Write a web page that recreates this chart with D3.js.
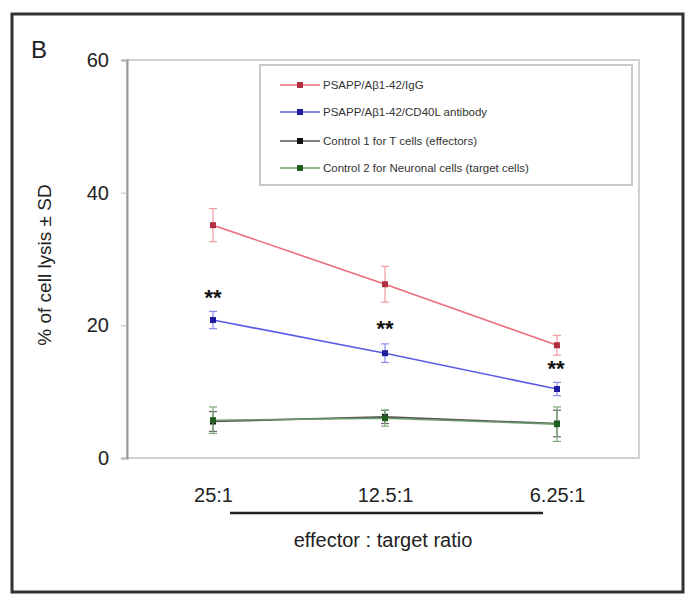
<!DOCTYPE html>
<html><head><meta charset="utf-8">
<script src="https://cdn.jsdelivr.net/npm/d3@7"></script>
<style>body{margin:0;background:#fff;}svg{display:block;font-family:"Liberation Sans",Arial,sans-serif;}</style>
</head><body>
<svg id="c" width="693" height="600"></svg>
<script>
const categories = ["25:1", "12.5:1", "6.25:1"];
const seriesNames = ["PSAPP/Aβ1-42/IgG", "PSAPP/Aβ1-42/CD40L antibody", "Control 1 for T cells (effectors)", "Control 2 for Neuronal cells (target cells)"];
const redValues = [35.1, 26.2, 17.0];
const redSD = [2.5, 2.7, 1.5];
const blueValues = [20.8, 15.8, 10.4];
const blueSD = [1.3, 1.4, 1.0];
const blackValues = [5.5, 6.2, 5.2];
const blackSD = [1.5, 1.0, 2.0];
const greenValues = [5.7, 6.0, 5.1];
const greenSD = [2.0, 1.2, 2.6];
const yTicks = [0, 20, 40, 60];
const starLabels = ["**", "**", "**"];

const series = [
  {name: seriesNames[0], values: redValues, sd: redSD, line: "#ec6f7c", mark: "#b0303f", err: "#f09aa3"},
  {name: seriesNames[1], values: blueValues, sd: blueSD, line: "#5a5ae6", mark: "#1c1c9c", err: "#8a8af0"},
  {name: seriesNames[2], values: blackValues, sd: blackSD, line: "#555", mark: "#111", err: "#666"},
  {name: seriesNames[3], values: greenValues, sd: greenSD, line: "#6a9a6a", mark: "#1f5e1f", err: "#7aaa7a"}
];

const svg = d3.select("#c");
// outer frame
svg.append("rect").attr("x", 12).attr("y", 14).attr("width", 671).attr("height", 578)
  .attr("fill", "none").attr("stroke", "#333").attr("stroke-width", 3);

const x = d3.scalePoint().domain(categories).range([213, 557]);
const y = d3.scaleLinear().domain([0, 60]).range([458, 60]);

// plot frame
svg.append("rect").attr("x", 127).attr("y", 60).attr("width", 512).attr("height", 398)
  .attr("fill", "none").attr("stroke", "#d0d0d0").attr("stroke-width", 2);

// y axis
const yAxis = svg.append("g").attr("transform", "translate(127,0)")
  .call(d3.axisLeft(y).tickValues(yTicks).tickSize(6).tickPadding(12));
yAxis.select(".domain").attr("stroke", "#999").attr("stroke-width", 2);
yAxis.selectAll(".tick line").attr("stroke", "#bbb");
yAxis.selectAll("text").attr("font-size", 20).attr("fill", "#222").attr("font-family", "Liberation Sans, Arial, sans-serif");

// x axis labels
const xAxis = svg.append("g").attr("transform", "translate(0,458)")
  .call(d3.axisBottom(x).tickSize(0).tickPadding(30));
xAxis.select(".domain").remove();
xAxis.selectAll("text").attr("font-size", 20).attr("fill", "#222").attr("font-family", "Liberation Sans, Arial, sans-serif");

// underline & x title
svg.append("line").attr("x1", 230).attr("x2", 543).attr("y1", 513).attr("y2", 513)
  .attr("stroke", "#222").attr("stroke-width", 2.5);
svg.append("text").attr("x", 383).attr("y", 547).attr("text-anchor", "middle")
  .attr("font-size", 20).attr("fill", "#222").text("effector : target ratio");

// y title
svg.append("text").attr("transform", "translate(51,265) rotate(-90)").attr("text-anchor", "middle")
  .attr("font-size", 19).attr("fill", "#222").text("% of cell lysis ± SD");

// panel label
svg.append("text").attr("x", 31).attr("y", 58).attr("font-size", 24).attr("fill", "#222").text("B");

// series
const line = d3.line().x((d, i) => x(categories[i])).y(d => y(d));
series.forEach(s => {
  const g = svg.append("g");
  g.append("path").datum(s.values).attr("d", line).attr("fill", "none")
    .attr("stroke", s.line).attr("stroke-width", 1.6);
  s.values.forEach((v, i) => {
    const cx = x(categories[i]);
    g.append("line").attr("x1", cx).attr("x2", cx).attr("y1", y(v + s.sd[i])).attr("y2", y(v - s.sd[i]))
      .attr("stroke", s.err).attr("stroke-width", 1.2);
    [v + s.sd[i], v - s.sd[i]].forEach(e => {
      g.append("line").attr("x1", cx - 4).attr("x2", cx + 4).attr("y1", y(e)).attr("y2", y(e))
        .attr("stroke", s.err).attr("stroke-width", 1.2);
    });
    g.append("rect").attr("x", cx - 3).attr("y", y(v) - 3).attr("width", 6).attr("height", 6)
      .attr("fill", s.mark);
  });
});

// significance stars
const starY = [296, 327, 367];
starLabels.forEach((t, i) => {
  svg.append("text").attr("x", x(categories[i]) + (i === 2 ? -1 : 0)).attr("y", starY[i] + 9)
    .attr("text-anchor", "middle").attr("font-size", 22).attr("font-weight", "bold").attr("fill", "#111").text(t);
});

// legend
const lg = svg.append("g");
lg.append("rect").attr("x", 260).attr("y", 65).attr("width", 372).attr("height", 120)
  .attr("fill", "#fff").attr("stroke", "#c8c8c8").attr("stroke-width", 2);
const rowY = [85, 112, 141, 168];
series.forEach((s, i) => {
  lg.append("line").attr("x1", 280).attr("x2", 320).attr("y1", rowY[i]).attr("y2", rowY[i])
    .attr("stroke", s.line).attr("stroke-width", 1.5);
  lg.append("rect").attr("x", 297).attr("y", rowY[i] - 3).attr("width", 6).attr("height", 6).attr("fill", s.mark);
  lg.append("text").attr("x", 323).attr("y", rowY[i] + 4).attr("font-size", 11.5).attr("fill", "#333").text(s.name);
});
</script>
</body></html>
